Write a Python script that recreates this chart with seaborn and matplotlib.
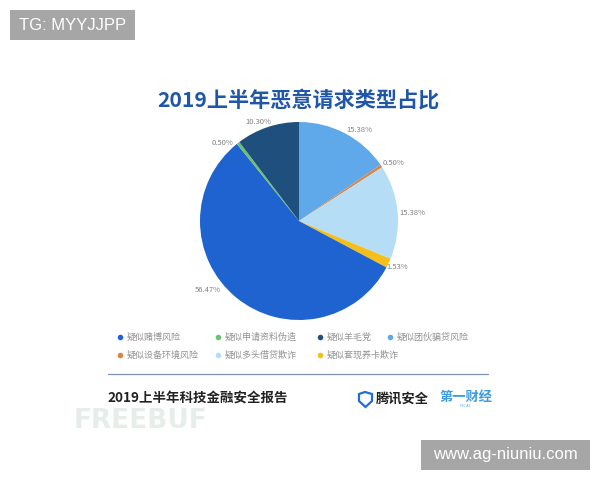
import matplotlib
matplotlib.use("Agg")
import numpy as np
import matplotlib.pyplot as plt
import seaborn as sns
from matplotlib.lines import Line2D
from matplotlib.patches import Rectangle, Polygon

# data (clockwise from 12 o'clock)
categories = ["疑似团伙骗贷风险", "疑似设备环境风险", "疑似多头借贷欺诈", "疑似套现养卡欺诈",
              "疑似赌博风险", "疑似申请资料伪造", "疑似羊毛党"]
shares = [15.38, 0.50, 15.38, 1.53, 56.47, 0.50, 10.30]
colors = ["#5fa8ea", "#d9844a", "#b5ddf6", "#f5bf1a", "#1f63d1", "#6cc26e", "#1f4f7d"]
legend_order = ["疑似赌博风险", "疑似申请资料伪造", "疑似羊毛党", "疑似团伙骗贷风险",
                "疑似设备环境风险", "疑似多头借贷欺诈", "疑似套现养卡欺诈"]

sns.set_theme(style="white")
plt.rcParams['font.family'] = ['Noto Sans CJK SC', 'DejaVu Sans']

fig = plt.figure(figsize=(6, 4.8), dpi=100)
fig.patch.set_facecolor("white")


def fx(px):
    return px / 600


def fy(py):
    return 1 - py / 480


# pie centred at (299, 221) px, radius ~99 px
r_px = 99
w = r_px * 2.5
ax = fig.add_axes([fx(299 - w / 2), fy(221 + w / 2), w / 600, w / 480])
pal = sns.color_palette(colors)
ax.pie(shares, colors=pal, startangle=90, counterclock=False,
       wedgeprops=dict(linewidth=0))
ax.set_xlim(-1.25, 1.25)
ax.set_ylim(-1.25, 1.25)
ax.set_aspect("equal")

# percentage labels just outside each wedge (distance, angle nudge in degrees)
label_pos = [(1.10, 5.7), (1.12, 2), (1.15, 1), (1.10, 0), (1.16, 13.4), (1.10, -6.5), (1.08, -4)]
cum = np.cumsum([0] + shares[:-1])
total = sum(shares)
for s, c, (d, nudge) in zip(shares, cum, label_pos):
    ang = np.deg2rad(90 - (360 * (c + s / 2) / total + nudge))
    ax.text(d * np.cos(ang), d * np.sin(ang), f"{s:.2f}%", fontsize=5.5,
            color="#808080", ha="center", va="center", style="italic")

# title
fig.text(0.497, fy(100), "2019上半年恶意请求类型占比", ha="center", va="center",
         fontsize=15.2, fontweight="bold", color="#1f56a8")

# legend (two rows, laid out like the original)
leg_x = [120, 218, 320, 390]
leg_y = [337, 355]
for i, name in enumerate(legend_order):
    row, col = (0, i) if i < 4 else (1, i - 4)
    x, y = leg_x[col], leg_y[row]
    fig.add_artist(Line2D([fx(x)], [fy(y)], marker="o", linestyle="", markersize=4,
                          markerfacecolor=colors[categories.index(name)], markeredgewidth=0))
    fig.text(fx(x + 7), fy(y), name, ha="left", va="center", fontsize=6.5, color="#929292")

# separator line
fig.add_artist(Line2D([fx(108), fx(488)], [fy(374)] * 2, color="#7f8fb5", linewidth=0.9))

# footer
fig.text(fx(107), fy(398), "2019上半年科技金融安全报告", ha="left", va="center",
         fontsize=9.7, fontweight="bold", color="#222222")
shield = Polygon([[fx(359), fy(394)], [fx(365), fy(392)], [fx(372), fy(394)],
                  [fx(372), fy(401)], [fx(365.5), fy(407)], [fx(359), fy(401)]],
                 closed=True, fill=False, edgecolor="#1f6fd6", linewidth=1.6,
                 transform=fig.transFigure)
fig.add_artist(shield)
fig.text(fx(376), fy(399), "腾讯安全", ha="left", va="center",
         fontsize=9.5, fontweight="bold", color="#222222")
fig.text(fx(440), fy(397), "第一财经", ha="left", va="center",
         fontsize=9.5, fontweight="bold", color="#3d9be0")
fig.text(fx(465), fy(406), "Y I C A I", ha="center", va="center",
         fontsize=2.5, color="#3d9be0")

# faint watermark
fig.text(fx(74), fy(421), "FREEBUF", ha="left", va="center",
         fontsize=19, fontweight="bold", color="#e7eeea", family="DejaVu Sans")

# corner tags
fig.add_artist(Rectangle((fx(10), fy(40)), 125 / 600, 30 / 480,
                         transform=fig.transFigure, facecolor="#a6a6a6", edgecolor="none"))
fig.text(fx(72.5), fy(25), "TG: MYYJJPP", ha="center", va="center",
         fontsize=12, color="white", family="Liberation Sans")
fig.add_artist(Rectangle((fx(421), fy(470)), 169 / 600, 30 / 480,
                         transform=fig.transFigure, facecolor="#a6a6a6", edgecolor="none"))
fig.text(fx(505.5), fy(455), "www.ag-niuniu.com", ha="center", va="center",
         fontsize=12, color="white", family="Liberation Sans")

fig.savefig("out.png", dpi=100)
